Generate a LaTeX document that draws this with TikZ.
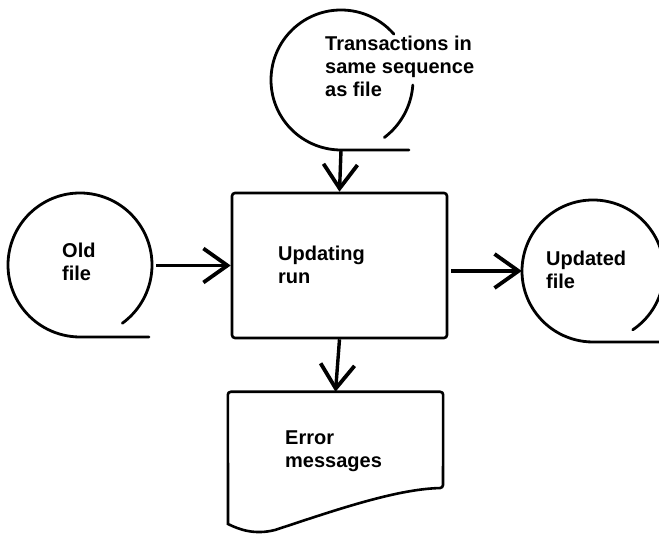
\documentclass[tikz,border=0pt]{standalone}
\usepackage{fontspec}
\setmainfont{Liberation Sans}
\usetikzlibrary{arrows.meta}
\begin{document}
\begin{tikzpicture}[x=1pt,y=1pt,
  outline/.style={line width=2.8pt, line cap=round},
  flow/.style={line width=3.4pt, -{Straight Barb[length=24pt,width=34pt,line width=3.8pt]}},
  label/.style={anchor=west, align=left, inner sep=0pt,
    font=\bfseries\fontsize{20}{23}\selectfont},
  reel/.style={circle, inner sep=0pt}]
\useasboundingbox (0,0) rectangle (659,534);
\clip (0,0) rectangle (659,534);

% tape reels (named frames, drawn as open circles with a tangent tail)
\node[reel, minimum size=140pt] (trans) at (341,454) {};
\node[reel, minimum size=144pt] (old) at (80,269) {};
\node[reel, minimum size=142pt] (upd) at (593,263) {};

% transactions tape
\draw[outline] (trans.center) ++(41:70) arc[start angle=41, end angle=270, radius=70]
  -- ++(68,0) coordinate (transtail);
\draw[outline] (trans.center) ++(-4:72) arc[start angle=-4, end angle=-53, radius=72];

% old master tape
\draw[outline] (old.center) ++(-54:72) arc[start angle=-54, end angle=270, radius=72]
  -- ++(69,0);

% updated master tape
\draw[outline] (upd.center) ++(-56:71) arc[start angle=-56, end angle=270, radius=71]
  -- ++(80,0);

% processing box
\node[draw, line width=2.6pt, rounded corners=3pt, minimum width=215pt,
  minimum height=145pt, inner sep=0pt] (run) at (339.5,268.5) {};

% printed document
\node[minimum width=215pt, minimum height=132pt, inner sep=0pt] (err) at (335.5,76) {};
\draw[line width=2.6pt, rounded corners=3pt]
  (228,46) -- (err.north west) -- (err.north east) -- (443,46)
  [sharp corners] .. controls (395,45) and (330,22) .. (275,4)
  .. controls (255,-1) and (240,4) .. (228,10) -- cycle;

% texts
\node[label] (ttrans) at (325,468) {Transactions in\\same sequence\\as file};
\node[label] (told) at (62,272) {Old\\file};
\node[label] (trun) at (278,269) {Updating\\run};
\node[label] (tupd) at (546,264) {Updated\\file};
\node[label] (terr) at (285,83) {Error\\messages};

% connectors
\draw[flow] (trans.south) -- (run.north);
\draw[flow, shorten <=4pt] (old.east |- run.west) -- (run.west);
\draw[flow, shorten <=3pt] (run.east |- upd.west) -- (upd.west);
\draw[flow] (run.south) -- (err.north);
\end{tikzpicture}
\end{document}
